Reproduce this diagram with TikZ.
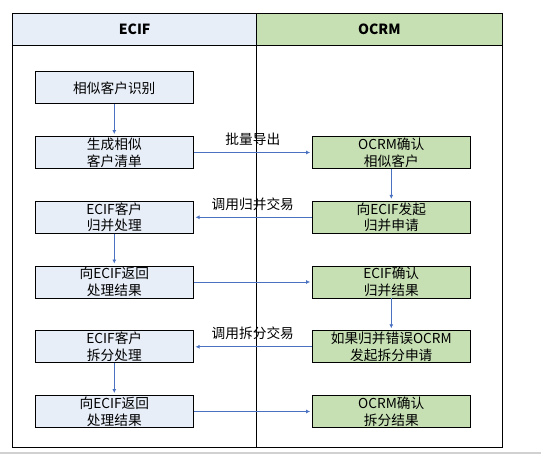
\documentclass[tikz,border=0pt]{standalone}
\usepackage{fontspec}
\setmainfont{Noto Sans CJK SC}
\usetikzlibrary{arrows.meta}
\definecolor{ecifblue}{HTML}{E8EEF8}
\definecolor{ocrmgreen}{HTML}{C6E0B4}
\definecolor{flowline}{HTML}{4A72C0}

\begin{document}
\begin{tikzpicture}[x=1pt,y=-1pt,
    lbox/.style={draw=black,line width=0.9pt,fill=ecifblue,minimum width=157.5pt,minimum height=32pt,inner sep=0pt,align=center,font=\fontsize{13.7}{16.7}\selectfont},
    rbox/.style={lbox,fill=ocrmgreen},
    flow/.style={draw=flowline,line width=0.8pt,-{Latex[length=4pt,width=4pt]},shorten >=2pt},
    tag/.style={inner sep=1pt,font=\fontsize{13.7}{16.7}\selectfont}]
            \useasboundingbox (0,0) rectangle (541,454);
            \fill[black!18] (0,451.5) rectangle (541,454);
            % lanes
            \fill[ecifblue] (12.5,13.5) rectangle (256.7,45.5);
            \fill[ocrmgreen] (256.7,13.5) rectangle (502,45.5);
            \draw[line width=0.9pt] (12.5,13.5) rectangle (502,447);
            \draw[line width=0.9pt] (12.5,45.5)--(502,45.5);
            \draw[line width=0.9pt] (256.7,13.5)--(256.7,447);
            \node[font=\fontsize{14}{16}\selectfont\bfseries] (hecif) at (134.6,29.5) {ECIF};
            \node[font=\fontsize{14}{16}\selectfont\bfseries] (hocrm) at (379.3,29.5) {OCRM};
            % ECIF side
            \node[lbox] (find) at (114.3,87.8) {相似客户识别};
            \node[lbox] (list) at (114.3,152.5) {生成相似\\客户清单};
            \node[lbox] (merge) at (114.3,217.3) {ECIF客户\\归并处理};
            \node[lbox] (mret) at (114.3,282) {向ECIF返回\\处理结果};
            \node[lbox] (split) at (114.3,346.8) {ECIF客户\\拆分处理};
            \node[lbox] (sret) at (114.3,411.5) {向ECIF返回\\处理结果};
            % OCRM side
            \node[rbox] (conf) at (391.3,152.5) {OCRM确认\\相似客户};
            \node[rbox] (mreq) at (391.3,217.3) {向ECIF发起\\归并申请};
            \node[rbox] (mok) at (391.3,282) {ECIF确认\\归并结果};
            \node[rbox] (sreq) at (391.3,346.8) {如果归并错误OCRM\\发起拆分申请};
            \node[rbox] (sok) at (391.3,411.5) {OCRM确认\\拆分结果};
            % flow
            \draw[flow] (find)--(list);
            \draw[flow] (list)--node[tag,above=5.5pt] (exp) {批量导出} (conf);
            \draw[flow] (conf)--(mreq);
            \draw[flow] (mreq)--node[tag,above=5.5pt] (callm) {调用归并交易} (merge);
            \draw[flow] (merge)--(mret);
            \draw[flow] (mret)--(mok);
            \draw[flow] (mok)--(sreq);
            \draw[flow] (sreq)--node[tag,above=5.5pt] (calls) {调用拆分交易} (split);
            \draw[flow] (split)--(sret);
            \draw[flow] (sret)--(sok);
        \end{tikzpicture}
\end{document}
